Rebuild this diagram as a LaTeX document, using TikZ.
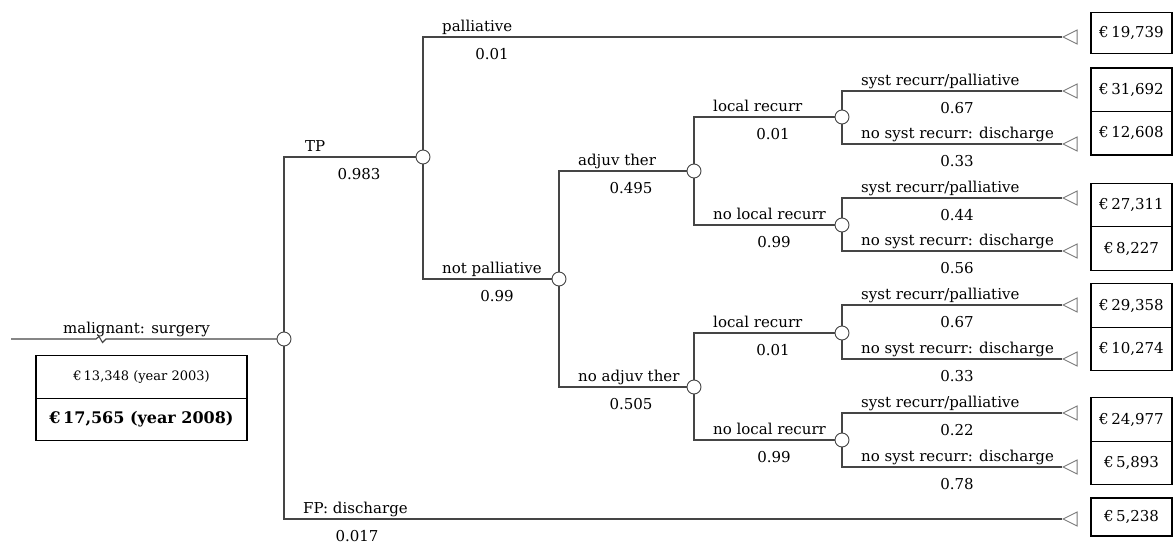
\documentclass[tikz,border=0pt]{standalone}
\usepackage{fontspec}
\setmainfont{DejaVu Serif}
\usetikzlibrary{positioning, shapes.geometric, backgrounds}
\definecolor{treegray}{HTML}{454545}
\definecolor{tipgray}{HTML}{7A7A7A}

\begin{document}
\begin{tikzpicture}[
    x=1pt, y=-1pt,
    node distance=0pt,
    font=\fontsize{15}{18}\selectfont,
    chance/.style={circle, draw=treegray, fill=white, line width=0.9pt,
                   minimum size=14pt, inner sep=0pt},
    term/.style={isosceles triangle, isosceles triangle stretches,
                 shape border rotate=180, draw=tipgray, line width=0.9pt,
                 minimum width=14pt, minimum height=14pt, inner sep=0pt, anchor=apex},
    branch/.style={draw=treegray, line width=1.1pt},
    lbl/.style={anchor=base west, inner sep=0pt},
    prob/.style={anchor=base, inner sep=0pt},
    valbox/.style={rectangle, draw=black, line width=1.3pt, outer sep=0pt,
                   minimum width=81pt, minimum height=43.5pt, inner sep=0pt},
    costbox/.style={rectangle, draw=black, line width=1.3pt, outer sep=0pt,
                    minimum width=211pt, minimum height=42.5pt, inner sep=0pt}
  ]
    \useasboundingbox (0,0) rectangle (1176,546);

    % chance nodes
    \node[chance] (root) at (284,339) {};
    \node[chance] (tp) at (423,157) {};
    \node[chance] (notpal) at (559,279) {};
    \node[chance] (adj) at (694,171) {};
    \node[chance] (noadj) at (694,387) {};
    \node[chance] (lr1) at (842,117) {};
    \node[chance] (nlr1) at (842,225) {};
    \node[chance] (lr2) at (842,333) {};
    \node[chance] (nlr2) at (842,440) {};

    % terminal nodes
    \node[term] (pal) at (1062,37) {};
    \node[term] (sys1) at (1062,91) {};
    \node[term] (dis1) at (1062,144) {};
    \node[term] (sys2) at (1062,198) {};
    \node[term] (dis2) at (1062,251) {};
    \node[term] (sys3) at (1062,305) {};
    \node[term] (dis3) at (1062,359) {};
    \node[term] (sys4) at (1062,413) {};
    \node[term] (dis4) at (1062,467) {};
    \node[term] (fp) at (1062,519) {};

    % payoffs
    \node[valbox, minimum height=41pt] (vpal) at (1131.5,33) {€\,19,739};
    \node[valbox] (vsys1) at (1131.5,89.75) {€\,31,692};
    \node[valbox, below=of vsys1] (vdis1) {€\,12,608};
    \node[valbox] (vsys2) at (1131.5,205) {€\,27,311};
    \node[valbox, below=of vsys2] (vdis2) {€\,8,227};
    \node[valbox] (vsys3) at (1131.5,305.5) {€\,29,358};
    \node[valbox, below=of vsys3] (vdis3) {€\,10,274};
    \node[valbox] (vsys4) at (1131.5,419.5) {€\,24,977};
    \node[valbox, below=of vsys4] (vdis4) {€\,5,893};
    \node[valbox, minimum height=38pt] (vfp) at (1131.5,517) {€\,5,238};

    % cost of the root
    \node[costbox, font=\fontsize{13}{15}\selectfont] (cost03) at (141.5,377) {€\,13,348 (year 2003)};
    \node[costbox, below=of cost03, font=\fontsize{16}{19}\selectfont\bfseries] (cost08) {€\,17,565 (year 2008)};

    \begin{scope}[on background layer]
      \coordinate (in) at (11,339);
      \draw[branch] (in) -- (96,339) -- (99,336.5) -- (102.5,342.5) -- (106,339) -- (root.center);
      \draw[branch] (root.center) |- (tp.center);
      \draw[branch] (root.center) |- (fp.apex);
      \draw[branch] (tp.center) |- (pal.apex);
      \draw[branch] (tp.center) |- (notpal.center);
      \draw[branch] (notpal.center) |- (adj.center);
      \draw[branch] (notpal.center) |- (noadj.center);
      \draw[branch] (adj.center) |- (lr1.center);
      \draw[branch] (adj.center) |- (nlr1.center);
      \draw[branch] (noadj.center) |- (lr2.center);
      \draw[branch] (noadj.center) |- (nlr2.center);
      \draw[branch] (lr1.center) |- (sys1.apex);
      \draw[branch] (lr1.center) |- (dis1.apex);
      \draw[branch] (nlr1.center) |- (sys2.apex);
      \draw[branch] (nlr1.center) |- (dis2.apex);
      \draw[branch] (lr2.center) |- (sys3.apex);
      \draw[branch] (lr2.center) |- (dis3.apex);
      \draw[branch] (nlr2.center) |- (sys4.apex);
      \draw[branch] (nlr2.center) |- (dis4.apex);
    \end{scope}

    % branch labels and probabilities
    \node[lbl] (lmal) at (63,333) {malignant: surgery};
    \node[lbl] (ltp) at (305,151) {TP};
    \node[prob] (ptp) at (359,179) {0.983};
    \node[lbl] (lpal) at (442,31) {palliative};
    \node[prob] (ppal) at (492,59) {0.01};
    \node[lbl] (lnotpal) at (442,273) {not palliative};
    \node[prob] (pnotpal) at (497,301) {0.99};
    \node[lbl] (ladj) at (578,165) {adjuv ther};
    \node[prob] (padj) at (631,193) {0.495};
    \node[lbl] (lnoadj) at (578,381) {no adjuv ther};
    \node[prob] (pnoadj) at (631,409) {0.505};
    \node[lbl] (llr1) at (713,111) {local recurr};
    \node[prob] (plr1) at (773,139) {0.01};
    \node[lbl] (lnlr1) at (713,219) {no local recurr};
    \node[prob] (pnlr1) at (774,247) {0.99};
    \node[lbl] (llr2) at (713,327) {local recurr};
    \node[prob] (plr2) at (773,355) {0.01};
    \node[lbl] (lnlr2) at (713,434) {no local recurr};
    \node[prob] (pnlr2) at (774,462) {0.99};
    \node[lbl] (lsys1) at (861,85) {syst recurr/palliative};
    \node[prob] (psys1) at (957,113) {0.67};
    \node[lbl] (ldis1) at (861,138) {no syst recurr: discharge};
    \node[prob] (pdis1) at (957,166) {0.33};
    \node[lbl] (lsys2) at (861,192) {syst recurr/palliative};
    \node[prob] (psys2) at (957,220) {0.44};
    \node[lbl] (ldis2) at (861,245) {no syst recurr: discharge};
    \node[prob] (pdis2) at (957,273) {0.56};
    \node[lbl] (lsys3) at (861,299) {syst recurr/palliative};
    \node[prob] (psys3) at (957,327) {0.67};
    \node[lbl] (ldis3) at (861,353) {no syst recurr: discharge};
    \node[prob] (pdis3) at (957,381) {0.33};
    \node[lbl] (lsys4) at (861,407) {syst recurr/palliative};
    \node[prob] (psys4) at (957,435) {0.22};
    \node[lbl] (ldis4) at (861,461) {no syst recurr: discharge};
    \node[prob] (pdis4) at (957,489) {0.78};
    \node[lbl] (lfp) at (303,513) {FP: discharge};
    \node[prob] (pfp) at (357,541) {0.017};
  \end{tikzpicture}
\end{document}
